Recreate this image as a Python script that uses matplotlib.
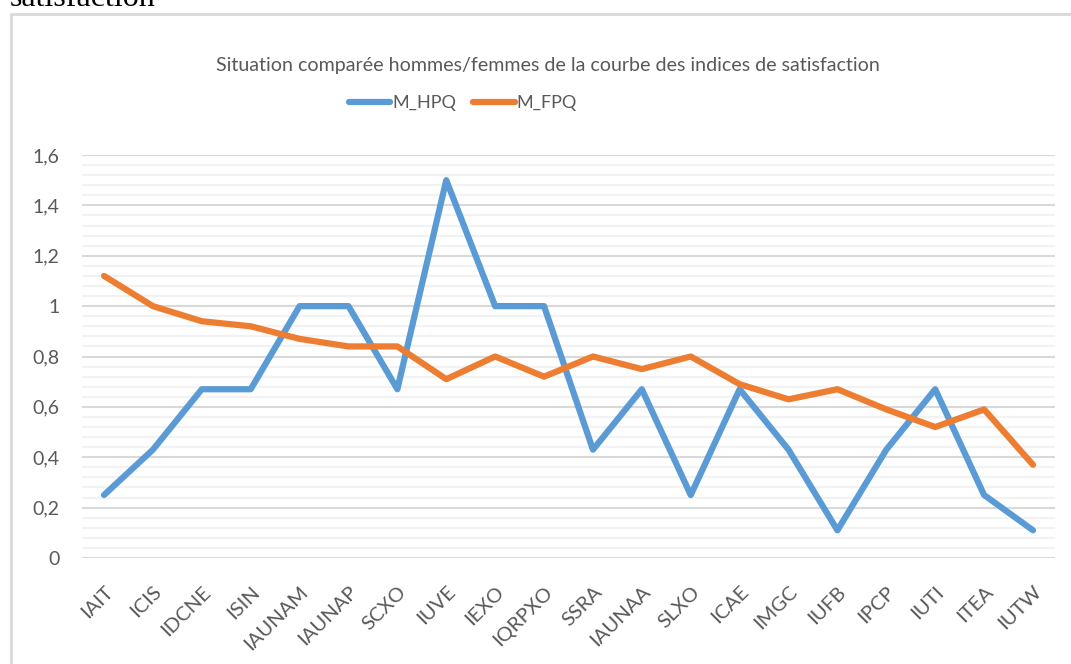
import numpy as np
import matplotlib
matplotlib.use("Agg")
import matplotlib.pyplot as plt
from matplotlib.patches import Rectangle
from matplotlib.ticker import MultipleLocator

# Donnees
categories = ["IAIT", "ICIS", "IDCNE", "ISIN", "IAUNAM", "IAUNAP", "SCXO", "IUVE",
              "IEXO", "IQRPXO", "SSRA", "IAUNAA", "SLXO", "ICAE", "IMGC", "IUFB",
              "IPCP", "IUTI", "ITEA", "IUTW"]
m_hpq = [0.25, 0.43, 0.67, 0.67, 1.0, 1.0, 0.67, 1.5, 1.0, 1.0,
         0.43, 0.67, 0.25, 0.67, 0.43, 0.11, 0.43, 0.67, 0.25, 0.11]
m_fpq = [1.12, 1.0, 0.94, 0.92, 0.87, 0.84, 0.84, 0.71, 0.80, 0.72,
         0.80, 0.75, 0.80, 0.69, 0.63, 0.67, 0.59, 0.52, 0.59, 0.37]

titre = "Situation comparée hommes/femmes de la courbe des indices de satisfaction"
gris = "#595959"
bleu = "#5b9bd5"
orange = "#ed7d31"

W, H = 1071, 664
fig = plt.figure(figsize=(W / 100, H / 100), dpi=100)
plt.rcParams['font.family'] = ['Lato', 'DejaVu Sans']

# texte coupe en haut de la page
fig.text(10 / W, 1 - 6 / H, "satisfaction", family=["Liberation Serif"], fontsize=23,
         ha="left", va="baseline", color="black")

# cadre du graphique
fig.patches.append(Rectangle((11 / W, -0.1), 1.2, 1 - 14 / H + 0.1, transform=fig.transFigure,
                             fill=False, edgecolor="#d9d9d9", linewidth=2))

ax = fig.add_axes([82 / W, 1 - 558 / H, (1055 - 82) / W, (558 - 155) / H])
x = np.arange(len(categories))

ax.plot(x, m_hpq, color=bleu, linewidth=4.5, solid_capstyle="round", solid_joinstyle="round",
        label="M_HPQ", zorder=3)
ax.plot(x, m_fpq, color=orange, linewidth=4.5, solid_capstyle="round", solid_joinstyle="round",
        label="M_FPQ", zorder=3)

ax.set_xlim(-0.45, len(categories) - 0.55)
ax.set_ylim(0, 1.6)
ax.yaxis.set_major_locator(MultipleLocator(0.2))
ax.yaxis.set_minor_locator(MultipleLocator(0.04))
ax.grid(axis="y", which="minor", color="#f2f2f2", linewidth=1.5)
ax.grid(axis="y", which="major", color="#d9d9d9", linewidth=1.5)
ax.set_axisbelow(True)

for s in ax.spines.values():
    s.set_visible(False)

yt = np.arange(0, 1.61, 0.2)
ax.set_yticks(yt)
ax.set_yticklabels([("%g" % round(v, 1)).replace(".", ",") for v in yt])
ax.set_xticks(x)
ax.set_xticklabels(categories, rotation=45, ha="right", rotation_mode="anchor")
ax.tick_params(axis="both", which="both", length=0, colors=gris, labelsize=14)
ax.tick_params(axis="x", labelsize=14.5)
ax.tick_params(axis="y", pad=16)
ax.tick_params(axis="x", pad=18)

fig.text(548 / W, 1 - 66 / H, titre, ha="center", va="center", fontsize=14.1, color=gris)

leg = fig.legend(loc="center", bbox_to_anchor=(463 / W, 1 - 103 / H), ncol=2, frameon=False,
                 fontsize=13, handlelength=2.3, handletextpad=0.1, columnspacing=0.95)
for t in leg.get_texts():
    t.set_color(gris)

fig.savefig("out.png", dpi=100)
